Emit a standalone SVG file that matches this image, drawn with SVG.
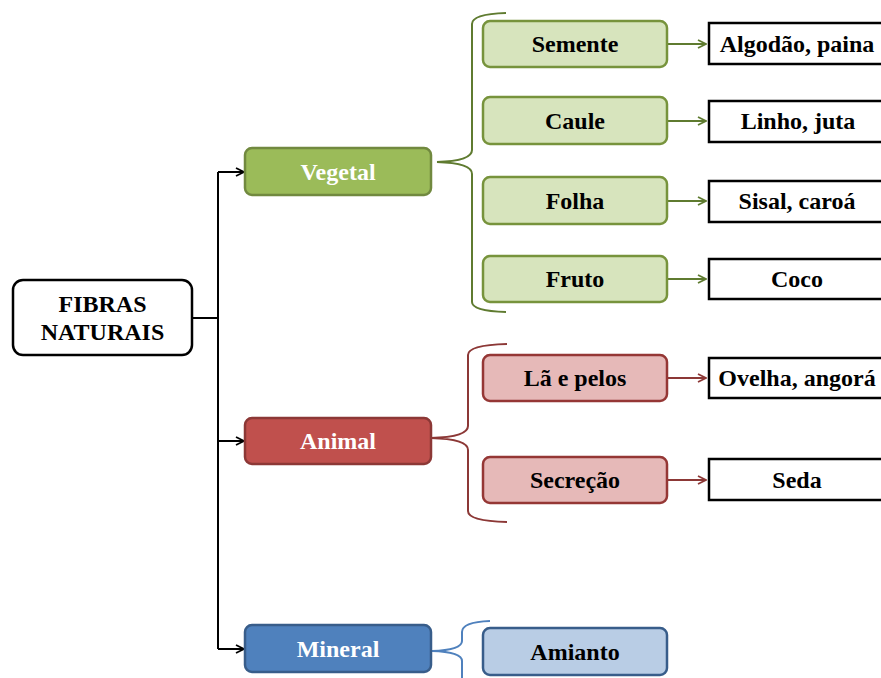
<svg xmlns="http://www.w3.org/2000/svg" width="881" height="678" viewBox="0 0 881 678">
<style>
text{font-family:'Liberation Serif','DejaVu Serif',serif;font-weight:bold;font-size:24px;text-anchor:middle}
.w{fill:#ffffff}
.k{fill:#000000}
.veg{fill:#9BBB59;stroke:#71893F;stroke-width:2.5}
.ani{fill:#C0504D;stroke:#8C3836;stroke-width:2.5}
.min{fill:#4F81BD;stroke:#385D8A;stroke-width:2.5}
.vs{fill:#D7E4BD;stroke:#77933C;stroke-width:2.5}
.as{fill:#E6B9B8;stroke:#953735;stroke-width:2.5}
.ms{fill:#B9CDE5;stroke:#385D8A;stroke-width:2.5}
.res{fill:#ffffff;stroke:#000000;stroke-width:2.5}
.cb{fill:none;stroke:#000000;stroke-width:2}
.cv{fill:none;stroke:#5F7B30;stroke-width:2}
.ca{fill:none;stroke:#8C3836;stroke-width:2}
.cm{fill:none;stroke:#4F81BD;stroke-width:2}
</style>
<defs>
<marker id="ab" markerWidth="10" markerHeight="10" refX="9" refY="5" orient="auto" markerUnits="userSpaceOnUse"><path d="M1,1 L9,5 L1,9" fill="none" stroke="#000" stroke-width="1.8"/></marker>
<marker id="av" markerWidth="10" markerHeight="10" refX="9" refY="5" orient="auto" markerUnits="userSpaceOnUse"><path d="M1,1 L9,5 L1,9" fill="none" stroke="#5F7B30" stroke-width="1.8"/></marker>
<marker id="aa" markerWidth="10" markerHeight="10" refX="9" refY="5" orient="auto" markerUnits="userSpaceOnUse"><path d="M1,1 L9,5 L1,9" fill="none" stroke="#8C3836" stroke-width="1.8"/></marker>
</defs>
<g id="connectors">
<path class="cb" d="M192,318 H218 M218,172 V649"/>
<path class="cb" d="M218,172 H244" marker-end="url(#ab)"/>
<path class="cb" d="M218,441 H244" marker-end="url(#ab)"/>
<path class="cb" d="M218,649 H244" marker-end="url(#ab)"/>
<path class="cv" d="M506,13 Q472,14 472,24 V150 Q472,161 437,162 Q472,163 472,174 V302 Q472,311 506,312"/>
<path class="ca" d="M507,344 Q468,345 468,355 V426 Q468,437 431,438 Q468,439 468,450 V511 Q468,521 507,522"/>
<path class="cm" d="M490,621 Q462,622 462,632 V641 Q462,650 432,651 Q462,652 462,661 V678"/>
<path class="cv" d="M667,44 H706" marker-end="url(#av)"/>
<path class="cv" d="M667,121 H706" marker-end="url(#av)"/>
<path class="cv" d="M667,201 H706" marker-end="url(#av)"/>
<path class="cv" d="M667,279 H706" marker-end="url(#av)"/>
<path class="ca" d="M667,378 H706" marker-end="url(#aa)"/>
<path class="ca" d="M667,480 H706" marker-end="url(#aa)"/>
</g>
<g id="fibras"><rect x="13" y="280" width="179" height="75" rx="10" fill="#fff" stroke="#000" stroke-width="2.5"/><text class="k" x="102.5" y="312">FIBRAS</text><text class="k" x="102.5" y="340">NATURAIS</text></g>
<g id="vegetal"><rect class="veg" x="245" y="148" width="186" height="47" rx="7"/><text class="w" x="338" y="180">Vegetal</text></g>
<g id="animal"><rect class="ani" x="245" y="418" width="186" height="46" rx="7"/><text class="w" x="338" y="449">Animal</text></g>
<g id="mineral"><rect class="min" x="245" y="625" width="186" height="47" rx="7"/><text class="w" x="338" y="657">Mineral</text></g>
<g id="semente"><rect class="vs" x="483" y="21" width="184" height="46" rx="7"/><text class="k" x="575" y="52">Semente</text></g>
<g id="caule"><rect class="vs" x="483" y="97" width="184" height="47" rx="7"/><text class="k" x="575" y="129">Caule</text></g>
<g id="folha"><rect class="vs" x="483" y="177" width="184" height="47" rx="7"/><text class="k" x="575" y="209">Folha</text></g>
<g id="fruto"><rect class="vs" x="483" y="256" width="184" height="46" rx="7"/><text class="k" x="575" y="287">Fruto</text></g>
<g id="la"><rect class="as" x="483" y="355" width="184" height="46" rx="7"/><text class="k" x="575" y="386">Lã e pelos</text></g>
<g id="secrecao"><rect class="as" x="483" y="457" width="184" height="46" rx="7"/><text class="k" x="575" y="488">Secreção</text></g>
<g id="amianto"><rect class="ms" x="483" y="628" width="184" height="47" rx="7"/><text class="k" x="575" y="660">Amianto</text></g>
<g id="algodao"><rect class="res" x="709" y="23" width="180" height="41"/><text class="k" x="797" y="52">Algodão, paina</text></g>
<g id="linho"><rect class="res" x="709" y="101" width="180" height="41"/><text class="k" x="798" y="129">Linho, juta</text></g>
<g id="sisal"><rect class="res" x="709" y="181" width="180" height="41"/><text class="k" x="797" y="209">Sisal, caroá</text></g>
<g id="coco"><rect class="res" x="709" y="259" width="180" height="40"/><text class="k" x="797" y="287">Coco</text></g>
<g id="ovelha"><rect class="res" x="709" y="358" width="180" height="40"/><text class="k" x="797" y="386">Ovelha, angorá</text></g>
<g id="seda"><rect class="res" x="709" y="459" width="180" height="41"/><text class="k" x="797" y="488">Seda</text></g>
</svg>
